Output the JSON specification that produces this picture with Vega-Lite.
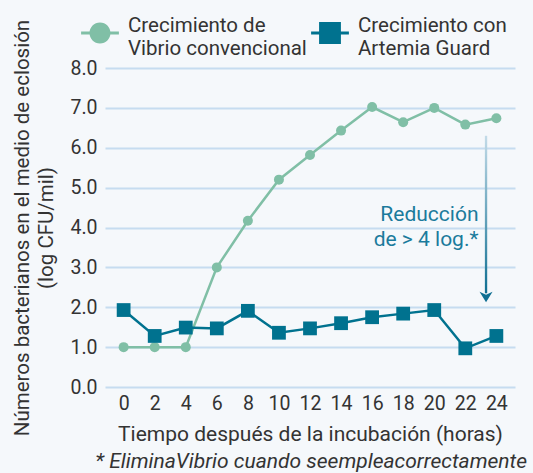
{
  "$schema": "https://vega.github.io/schema/vega-lite/v6.json",
  "width": 410,
  "height": 319,
  "autosize": {"type": "none"},
  "padding": {"left": 105, "top": 68, "right": 18, "bottom": 86},
  "background": "#f5f8fb",
  "config": {
    "font": "Roboto",
    "view": {"stroke": null},
    "axis": {"labelColor": "#333333", "titleColor": "#333333", "labelFont": "Roboto", "titleFont": "Roboto", "titleFontWeight": "normal", "labelOverlap": false},
    "title": {"font": "Roboto", "color": "#333333"}
  },
  "title": {
    "text": "* EliminaVibrio cuando seempleacorrectamente",
    "orient": "bottom",
    "anchor": "end",
    "fontStyle": "italic",
    "fontWeight": "normal",
    "fontSize": 21,
    "offset": 6,
    "dx": 12
  },
  "datasets": {
    "series": [
      {"hora": 0, "serie": "Vibrio", "valor": 1.0},
      {"hora": 2, "serie": "Vibrio", "valor": 1.0},
      {"hora": 4, "serie": "Vibrio", "valor": 1.0},
      {"hora": 6, "serie": "Vibrio", "valor": 3.0},
      {"hora": 8, "serie": "Vibrio", "valor": 4.17},
      {"hora": 10, "serie": "Vibrio", "valor": 5.2},
      {"hora": 12, "serie": "Vibrio", "valor": 5.82},
      {"hora": 14, "serie": "Vibrio", "valor": 6.43},
      {"hora": 16, "serie": "Vibrio", "valor": 7.02},
      {"hora": 18, "serie": "Vibrio", "valor": 6.64},
      {"hora": 20, "serie": "Vibrio", "valor": 7.0},
      {"hora": 22, "serie": "Vibrio", "valor": 6.58},
      {"hora": 24, "serie": "Vibrio", "valor": 6.74},
      {"hora": 0, "serie": "Artemia", "valor": 1.93},
      {"hora": 2, "serie": "Artemia", "valor": 1.28},
      {"hora": 4, "serie": "Artemia", "valor": 1.49},
      {"hora": 6, "serie": "Artemia", "valor": 1.47},
      {"hora": 8, "serie": "Artemia", "valor": 1.91},
      {"hora": 10, "serie": "Artemia", "valor": 1.36},
      {"hora": 12, "serie": "Artemia", "valor": 1.47},
      {"hora": 14, "serie": "Artemia", "valor": 1.6},
      {"hora": 16, "serie": "Artemia", "valor": 1.75},
      {"hora": 18, "serie": "Artemia", "valor": 1.84},
      {"hora": 20, "serie": "Artemia", "valor": 1.93},
      {"hora": 22, "serie": "Artemia", "valor": 0.97},
      {"hora": 24, "serie": "Artemia", "valor": 1.28}
    ],
    "flecha": [{"x": 23.26, "x2": 23.41, "y": 6.3, "y2": 2.35}],
    "punta": [{"x": 23.335, "y": 2.29}],
    "nota": [{"x": 22.85, "y": 4.32, "texto": "Reducción|de > 4 log.*"}]
  },
  "encoding": {
    "x": {
      "type": "quantitative",
      "scale": {"domain": [-1.2, 25.2], "nice": false, "zero": false},
      "axis": {
        "values": [0, 2, 4, 6, 8, 10, 12, 14, 16, 18, 20, 22, 24],
        "format": "d", "grid": false, "domain": false, "ticks": false,
        "labelOverlap": false,
        "labelFontSize": 19.5, "labelPadding": 7,
        "title": "Tiempo después de la incubación (horas)",
        "titleFontSize": 21, "titlePadding": 11
      }
    },
    "y": {
      "type": "quantitative",
      "scale": {"domain": [0, 8], "nice": false},
      "axis": {
        "values": [0, 1, 2, 3, 4, 5, 6, 7, 8],
        "format": ".1f", "domain": false, "ticks": false,
        "labelOverlap": false,
        "grid": true, "gridColor": "#c6dcf0", "gridWidth": 2,
        "labelFontSize": 19.5, "labelPadding": 8,
        "title": ["Números bacterianos en el medio de eclosión", "(log CFU/mil)"],
        "titleFontSize": 20.5, "titlePadding": 13, "titleLineHeight": 24
      }
    }
  },
  "layer": [
    {
      "data": {"name": "series"},
      "mark": {"type": "line", "strokeWidth": 2.5},
      "encoding": {
        "x": {"field": "hora"},
        "y": {"field": "valor"},
        "color": {
          "field": "serie", "type": "nominal",
          "scale": {"domain": ["Vibrio", "Artemia"], "range": ["#80bfa6", "#00728f"]},
          "legend": {
            "orient": "none",
            "legendX": -26,
            "legendY": -56,
            "direction": "horizontal",
            "title": null,
            "padding": 0,
            "symbolSize": 1764,
            "symbolStrokeWidth": 0,
            "symbolOpacity": 1,
            "labelFontSize": 20.5,
            "labelColor": "#333333",
            "labelOffset": 7,
            "labelLimit": 300,
            "columnPadding": 2,
            "labelExpr": "datum.value == 'Vibrio' ? ['Crecimiento de', 'Vibrio convencional'] : ['Crecimiento con', 'Artemia Guard']",
            "encode": {
              "labels": {"update": {"dy": {"value": -7}}},
              "symbols": {
                "update": {
                  "shape": {"signal": "datum.value == 'Vibrio' ? 'M-0.9,-0.07H0.9V0.07H-0.9Z M0.5,0A0.5,0.5 0 1 1 -0.5,0A0.5,0.5 0 1 1 0.5,0Z' : 'M-0.9,-0.07H0.9V0.07H-0.9Z M-0.52,-0.52H0.52V0.52H-0.52Z'"},
                  "fill": {"signal": "datum.value == 'Vibrio' ? '#80bfa6' : '#00728f'"},
                  "size": {"value": 1764},
                  "strokeWidth": {"value": 0}
                }
              }
            }
          }
        }
      }
    },
    {
      "data": {"name": "series"},
      "transform": [{"filter": "datum.serie == 'Vibrio'"}],
      "mark": {"type": "point", "filled": true, "opacity": 1, "shape": "circle", "size": 100},
      "encoding": {
        "x": {"field": "hora"},
        "y": {"field": "valor"},
        "color": {"field": "serie", "type": "nominal"}
      }
    },
    {
      "data": {"name": "series"},
      "transform": [{"filter": "datum.serie == 'Artemia'"}],
      "mark": {"type": "point", "filled": true, "opacity": 1, "shape": "square", "size": 190},
      "encoding": {
        "x": {"field": "hora"},
        "y": {"field": "valor"},
        "color": {"field": "serie", "type": "nominal"}
      }
    },
    {
      "data": {"name": "flecha"},
      "mark": {
        "type": "rect",
        "color": {
          "gradient": "linear", "x1": 0, "y1": 0, "x2": 0, "y2": 1,
          "stops": [{"offset": 0, "color": "#c3dbe8"}, {"offset": 1, "color": "#0f6f92"}]
        }
      },
      "encoding": {
        "x": {"field": "x"},
        "x2": {"field": "x2"},
        "y": {"field": "y"},
        "y2": {"field": "y2"}
      }
    },
    {
      "data": {"name": "punta"},
      "mark": {
        "type": "point", "filled": true, "opacity": 1, "color": "#0f6f92",
        "shape": "M0,1L-1,-0.6L0,-0.15L1,-0.6Z", "size": 169
      },
      "encoding": {
        "x": {"field": "x"},
        "y": {"field": "y"}
      }
    },
    {
      "data": {"name": "nota"},
      "mark": {
        "type": "text", "align": "right", "baseline": "middle",
        "fontSize": 21, "color": "#1b7b9c", "lineBreak": "|", "lineHeight": 25
      },
      "encoding": {
        "x": {"field": "x"},
        "y": {"field": "y"},
        "text": {"field": "texto"}
      }
    }
  ]
}
